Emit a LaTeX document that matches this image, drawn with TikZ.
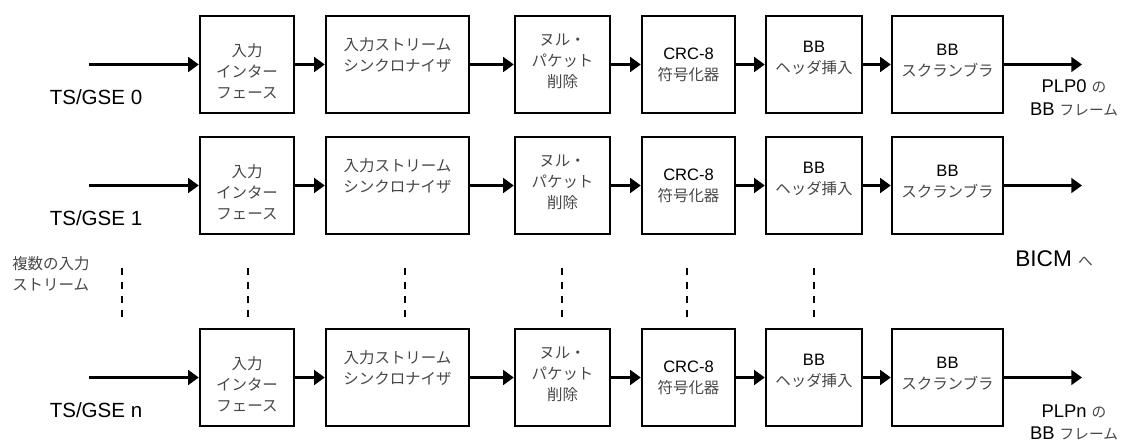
\documentclass[tikz,border=0pt]{standalone}
\usepackage{fontspec}
\setmainfont{Liberation Sans}
\newfontfamily\jpf{Noto Sans CJK JP}
\usetikzlibrary{arrows.meta,calc}
\begin{document}
\begin{tikzpicture}[x=0.75pt,y=-0.75pt,
  blk/.style={draw, line width=1.8pt, inner sep=0pt, minimum height=72.75pt},
  jtxt/.style={font=\jpf\fontsize{11.6}{15.75}\selectfont, text=black!72, align=center, inner sep=0pt},
  flow/.style={line width=2pt, -{Triangle[length=8pt,width=11pt]}},
  dashln/.style={line width=1.5pt, dash pattern=on 5.25pt off 5.25pt},
  lbl/.style={font=\fontsize{15.4}{18}\selectfont, inner sep=0pt},
  plbl/.style={font=\fontsize{13.8}{15}\selectfont, inner sep=0pt},
]
\newcommand\latb[1]{{\normalfont\fontsize{12.4}{15.75}\selectfont\color{black}#1}}
\newcommand\jsm[1]{{\jpf\fontsize{11}{12}\selectfont\color{black!72}#1}}
\useasboundingbox (0,0) rectangle (1123,441);

\foreach \r/\t in {0/16,1/137,n/329}{
  \node[blk, minimum width=70.5pt]  (b1\r) at (247,{\t+48.5}) {};
  \node[blk, minimum width=107.25pt] (b2\r) at (397.5,{\t+48.5}) {};
  \node[blk, minimum width=71.25pt] (b3\r) at (562.5,{\t+48.5}) {};
  \node[blk, minimum width=69.75pt] (b4\r) at (688.5,{\t+48.5}) {};
  \node[blk, minimum width=72pt]    (b5\r) at (814,{\t+48.5}) {};
  \node[blk, minimum width=83.25pt] (b6\r) at (947.5,{\t+48.5}) {};
  \node[jtxt] (t1\r) at (247,{\t+55}) {入力\\インター\\フェース};
  \node[jtxt] (t2\r) at (397.5,{\t+39}) {入力ストリーム\\シンクロナイザ};
  \node[jtxt] (t3\r) at (562.5,{\t+45}) {ヌル・\\パケット\\削除};
  \node[jtxt] (t4\r) at (688.5,{\t+49}) {\latb{CRC-8}\\符号化器};
  \node[jtxt] (t5\r) at (814,{\t+41.5}) {\latb{BB}\\ヘッダ挿入};
  \node[jtxt] (t6\r) at (947.5,{\t+44.5}) {\latb{BB}\\スクランブラ};
  \coordinate (in\r) at (89,{\t+48.5});
  \coordinate (out\r) at (1082,{\t+48.5});
  \node[lbl] (ts\r) at (96,{\t+81}) {TS/GSE \r};
  \draw[flow] (in\r) -- (b1\r.west);
  \draw[flow] (b1\r.east) -- (b2\r.west);
  \draw[flow] (b2\r.east) -- (b3\r.west);
  \draw[flow] (b3\r.east) -- (b4\r.west);
  \draw[flow] (b4\r.east) -- (b5\r.west);
  \draw[flow] (b5\r.east) -- (b6\r.west);
  \draw[flow] (b6\r.east) -- (out\r);
}

\foreach \i/\x in {1/122,2/248,3/405,4/562,5/687,6/814}{
  \coordinate (da\i) at (\x,268);
  \coordinate (db\i) at (\x,317);
  \draw[dashln] (da\i) -- (db\i);
}

\node[jtxt, text=black!72, align=left, anchor=west] (multi) at (12,273.5) {複数の入力\\ストリーム};

\node[anchor=west, inner sep=0pt] (bicm) at (1015,259)
  {\fontsize{17}{20}\selectfont BICM \jsm{へ}};

\node[plbl] (plp0a) at (1074,86) {PLP0 \jsm{の}};
\node[plbl] (plp0b) at (1074,109) {BB \jsm{フレーム}};
\node[plbl] (plpna) at (1074,411) {PLPn \jsm{の}};
\node[plbl] (plpnb) at (1074,433) {BB \jsm{フレーム}};
\end{tikzpicture}
\end{document}
